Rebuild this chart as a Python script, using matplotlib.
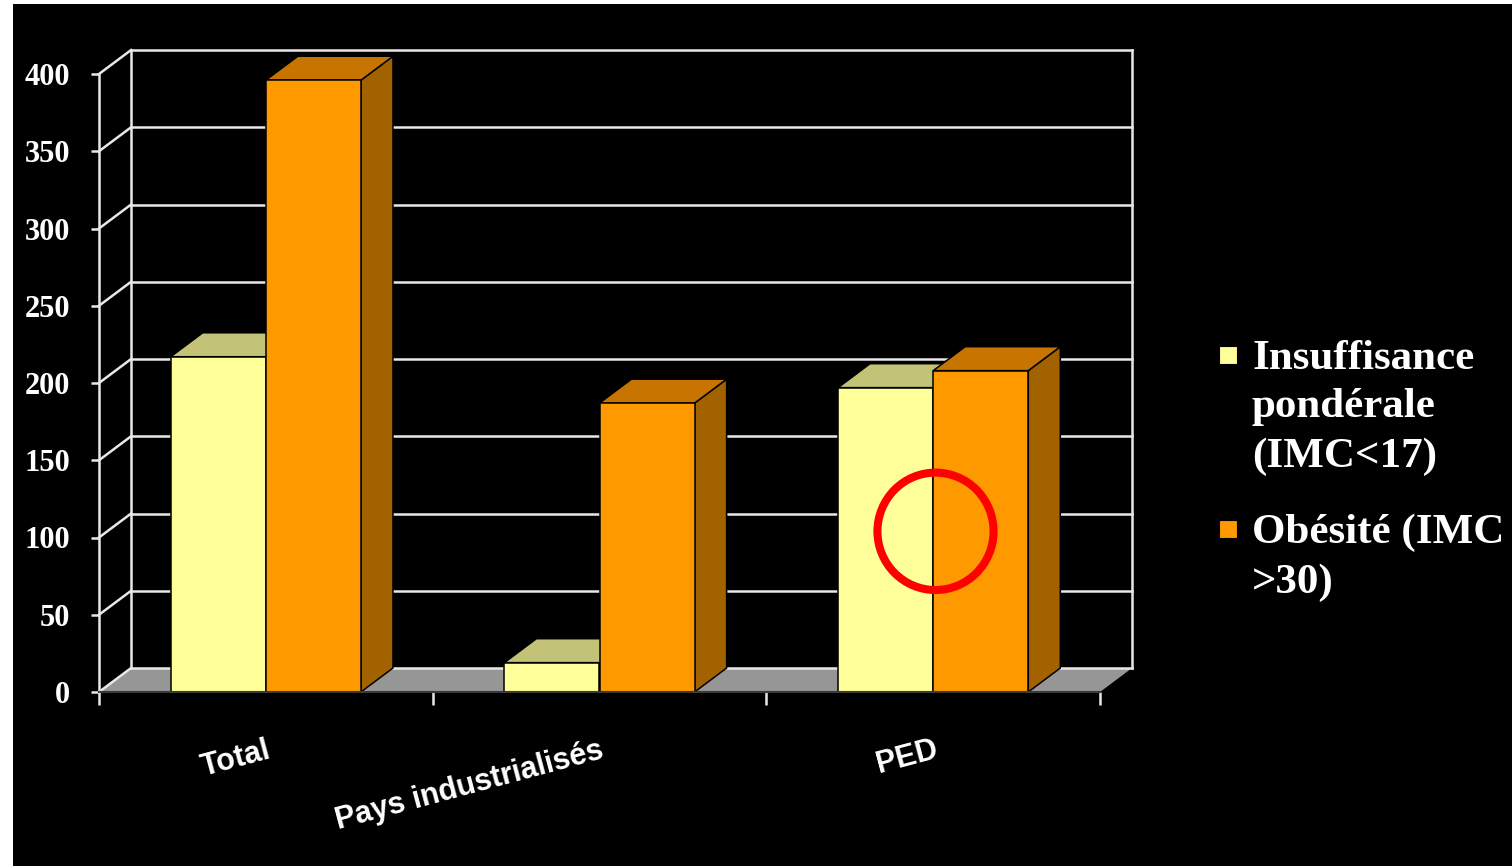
"""Sous-alimentation vs obésité : histogramme 3D façon diapositive."""

import matplotlib

matplotlib.use("Agg")
import matplotlib.pyplot as plt
from matplotlib.patches import Ellipse, Polygon, Rectangle

CATEGORIES = ["Total", "Pays industrialisés", "PED"]
UNDERWEIGHT = [217, 19, 197]
OBESITY = [396, 187, 208]
SERIES_LABELS = ["Insuffisance\npondérale\n(IMC<17)", "Obésité (IMC\n>30)"]
Y_TICKS = [0, 50, 100, 150, 200, 250, 300, 350, 400]

FRONT = ["#FFFF99", "#FF9900"]
TOP = ["#C3C377", "#C77400"]
SIDE = ["#A6A65C", "#A36200"]
GRID = "#E8E8E8"
FLOOR = "#969696"

# 3D depth offset (category units, value units) and bar width
DX, DY = 0.096, 15.5
BAR_W = 0.285
YMAX = 400


def draw_box(ax, x0, height, k):
    kw = dict(ec="black", lw=1.1, zorder=4, joinstyle="miter")
    ax.add_patch(Polygon([(x0 + BAR_W, 0), (x0 + BAR_W + DX, DY),
                          (x0 + BAR_W + DX, height + DY), (x0 + BAR_W, height)],
                         fc=SIDE[k], clip_on=False, **kw))
    ax.add_patch(Polygon([(x0, height), (x0 + BAR_W, height),
                          (x0 + BAR_W + DX, height + DY), (x0 + DX, height + DY)],
                         fc=TOP[k], clip_on=False, **kw))
    ax.add_patch(Rectangle((x0, 0), BAR_W, height, fc=FRONT[k],
                           clip_on=False, **kw))


def main():
    fig = plt.figure(figsize=(15.12, 8.66), dpi=100)
    fig.patch.set_facecolor("white")
    fig.add_artist(Rectangle((13 / 1512, 0), 1, 862 / 866, transform=fig.transFigure,
                             fc="black", ec="none", zorder=-10))

    ax = fig.add_axes([99 / 1512, 174 / 866, 1001 / 1512, 618 / 866])
    ax.set_facecolor("none")
    n = len(CATEGORIES)
    ax.set_xlim(0, n)
    ax.set_ylim(0, YMAX)

    # floor and walls
    ax.add_patch(Polygon([(0, 0), (n, 0), (n + DX, DY), (DX, DY)], fc=FLOOR,
                         ec="none", zorder=1, clip_on=False))
    for v in Y_TICKS:
        ax.plot([0, DX], [v, v + DY], color=GRID, lw=1.8, zorder=2, clip_on=False)
        ax.plot([DX, n + DX], [v + DY, v + DY], color=GRID, lw=1.8, zorder=2,
                clip_on=False)
    for xw in (DX, n + DX):
        ax.plot([xw, xw], [DY, YMAX + DY], color=GRID, lw=1.8, zorder=2,
                clip_on=False)

    # bars
    for i in range(n):
        center = i + 0.5
        draw_box(ax, center - BAR_W, UNDERWEIGHT[i], 0)
        draw_box(ax, center, OBESITY[i], 1)

    # highlight circle on PED
    ax.add_patch(Ellipse((2.507, 104), 0.348, 76, fc="none", ec="#FF0000",
                         lw=5.8, zorder=6, clip_on=False))

    # axes
    for side in ("top", "right"):
        ax.spines[side].set_visible(False)
    ax.spines["left"].set_color(GRID)
    ax.spines["left"].set_linewidth(1.8)
    ax.spines["bottom"].set_color("#3A3A3A")
    ax.spines["bottom"].set_linewidth(1.5)
    ax.spines["bottom"].set_zorder(5)

    ax.set_yticks(Y_TICKS)
    ax.tick_params(axis="y", direction="out", length=6, width=1.8, color=GRID,
                   labelcolor="white", pad=15)
    for lab in ax.get_yticklabels():
        lab.set_fontfamily("Liberation Serif")
        lab.set_fontweight("bold")
        lab.set_fontsize(22)

    ax.set_xticks(range(n + 1))
    ax.tick_params(axis="x", which="major", direction="out", length=9.5,
                   width=1.8, color=GRID, labelbottom=False)
    ax.set_xticks([i + 0.5 for i in range(n)], minor=True)
    ax.set_xticklabels(CATEGORIES, minor=True)
    ax.tick_params(axis="x", which="minor", length=0, pad=31, labelcolor="white")
    for lab in ax.get_xticklabels(minor=True):
        lab.set_fontfamily("Liberation Sans")
        lab.set_fontweight("bold")
        lab.set_fontsize(22)
        lab.set_rotation(15)
        lab.set_ha("right")
        lab.set_rotation_mode("anchor")

    # legend
    legend_tops = [340, 514]
    for k, (label, top) in enumerate(zip(SERIES_LABELS, legend_tops)):
        fig.add_artist(Rectangle((1219 / 1512, (866 - top - 24) / 866), 18 / 1512,
                                 18 / 866, transform=fig.transFigure, fc=FRONT[k],
                                 ec="black", lw=0.8))
        fig.text(1252 / 1512, (866 - top) / 866, label, color="white",
                 fontfamily="Liberation Serif", fontweight="bold", fontsize=31,
                 va="top", ha="left", linespacing=1.36)

    fig.savefig("out.png", dpi=100, facecolor=fig.get_facecolor())
    plt.close(fig)


if __name__ == "__main__":
    main()
